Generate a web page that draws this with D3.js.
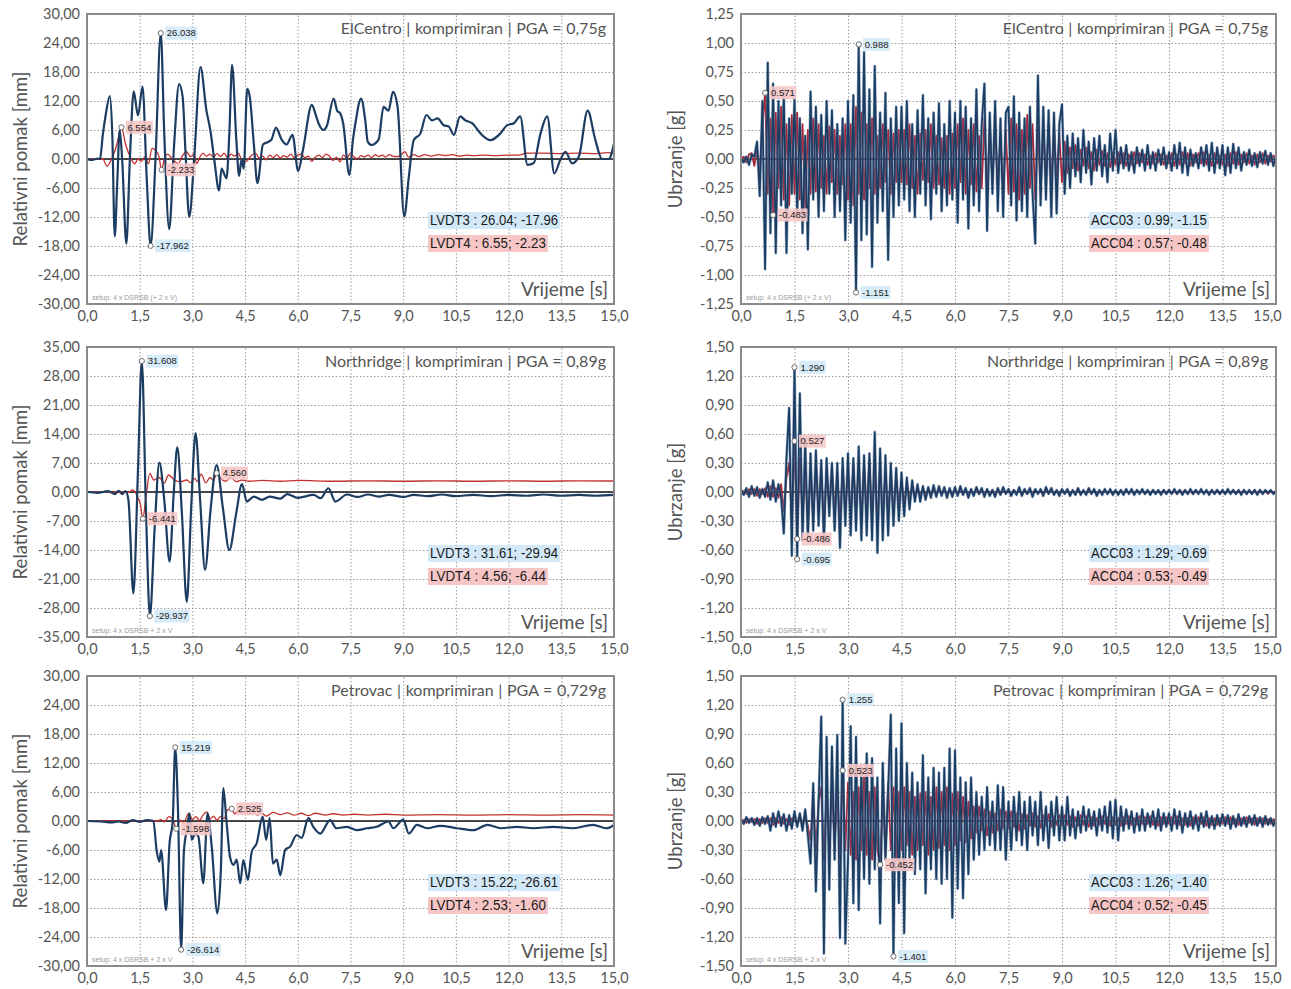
<!DOCTYPE html>
<html>
<head>
<meta charset="utf-8">
<script src="https://cdn.jsdelivr.net/npm/d3@7"></script>
<style>
  body { margin: 0; background: #fff; }
  svg { display: block; }
  .tick text { font-family: Lato, "Noto Sans", sans-serif; font-size: 14.5px; fill: #555; }
</style>
</head>
<body>
<svg id="chart" width="1291" height="989"></svg>
<script>
// ---------- axis ticks ----------
const timeTicks = [0, 1.5, 3, 4.5, 6, 7.5, 9, 10.5, 12, 13.5, 15];
const dispTicks30 = [-30, -24, -18, -12, -6, 0, 6, 12, 18, 24, 30];
const dispTicks35 = [-35, -28, -21, -14, -7, 0, 7, 14, 21, 28, 35];
const accTicks125 = [-1.25, -1, -0.75, -0.5, -0.25, 0, 0.25, 0.5, 0.75, 1, 1.25];
const accTicks150 = [-1.5, -1.2, -0.9, -0.6, -0.3, 0, 0.3, 0.6, 0.9, 1.2, 1.5];

// ---------- texts ----------
const titles = [
  "ElCentro | komprimiran | PGA = 0,75g",
  "Northridge | komprimiran | PGA = 0,89g",
  "Petrovac | komprimiran | PGA = 0,729g"
];
const setupTexts = ["setup: 4 x DSRSB (+ 2 x V)", "setup: 4 x DSRSB + 2 x V", "setup: 4 x DSRSB + 2 x V"];
const dispLegend = [
  ["LVDT3 : 26.04; -17.96", "LVDT4 : 6.55; -2.23"],
  ["LVDT3 : 31.61; -29.94", "LVDT4 : 4.56; -6.44"],
  ["LVDT3 : 15.22; -26.61", "LVDT4 : 2.53; -1.60"]
];
const accLegend = [
  ["ACC03 : 0.99; -1.15", "ACC04 : 0.57; -0.48"],
  ["ACC03 : 1.29; -0.69", "ACC04 : 0.53; -0.49"],
  ["ACC03 : 1.26; -1.40", "ACC04 : 0.52; -0.45"]
];

// ---------- displacement [t (s), mm] ----------
const ecLvdt3 = [[0,0],[0.15,-0.2],[0.3,0.1],[0.37,0],[0.45,5],[0.53,9],[0.65,13],[0.72,5],[0.79,-16],[0.86,-5],[0.93,6],[1.0,0],[1.12,-17.5],[1.22,0],[1.33,14],[1.45,9],[1.58,15],[1.7,-4],[1.81,-17.962],[1.95,0],[2.10,26.038],[2.2,5],[2.34,-14.5],[2.48,3],[2.62,15.5],[2.72,13],[2.8,2],[2.91,-12],[3.05,0],[3.23,19],[3.40,10],[3.51,6],[3.62,0],[3.76,-6.5],[3.83,-2],[3.97,-4],[4.05,5],[4.13,19.5],[4.25,4],[4.33,-3.5],[4.40,0],[4.46,-2],[4.56,14.5],[4.63,13],[4.75,3],[4.85,-5],[5.01,3],[5.15,3.5],[5.25,4],[5.38,6.5],[5.54,4],[5.68,3],[5.85,5],[6.01,-2.5],[6.15,2],[6.40,11.2],[6.50,9.4],[6.59,7.4],[6.73,6],[6.82,6.7],[7.02,12.5],[7.12,10],[7.21,9.4],[7.29,7.4],[7.47,-3.3],[7.57,4],[7.64,7.4],[7.80,12.5],[7.92,8],[7.99,3.6],[8.1,2.9],[8.30,4],[8.44,10.8],[8.58,10],[8.71,13.9],[8.84,10.8],[9.03,-11.9],[9.16,-3.7],[9.30,3.9],[9.49,5.3],[9.66,9.1],[9.82,8],[9.98,8.4],[10.15,7],[10.3,6.7],[10.44,5],[10.62,8.8],[10.77,8],[10.96,7.4],[11.2,5.3],[11.48,3.9],[11.77,5.3],[11.96,7],[12.15,7.4],[12.33,8.8],[12.54,-1.2],[12.71,-0.9],[12.91,5.3],[13.10,8.8],[13.30,-3],[13.47,-0.2],[13.62,1.5],[13.81,-0.9],[14.0,0.5],[14.25,10],[14.47,3.9],[14.66,0],[14.85,0],[15.0,3.2]];
const ecLvdt4 = [[0,0],[0.45,0],[0.57,-1.5],[0.7,0],[0.85,3],[0.98,6.554],[1.1,3],[1.26,0],[1.36,-1],[1.45,0],[1.55,-0.5],[1.65,0.5],[1.75,-1],[1.85,2.2],[1.95,1.8],[2.05,0.5],[2.12,-2.233],[2.2,0],[2.3,1],[2.4,0.2],[2.5,-0.5],[2.6,-1],[2.7,0.5],[2.83,1.5],[2.95,0.5],[3.05,1],[3.12,-1],[3.22,0.5],[3.3,1.2],[3.4,0.6],[3.5,1],[3.6,0.4],[3.7,1.1],[3.8,0.5],[3.9,1.2],[4.0,0.3],[4.1,1],[4.2,0.6],[4.3,1.2],[4.4,0],[4.54,-0.5],[4.65,0.5],[4.8,1.2],[4.9,0.2],[5.0,0.6],[5.1,-0.2],[5.2,0.8],[5.3,0.3],[5.4,0.9],[5.5,0.2],[5.6,0.7],[5.7,0.4],[5.8,1],[5.9,0.3],[6.0,0.8],[6.1,1],[6.2,0.3],[6.3,0.6],[6.39,-0.5],[6.5,0.4],[6.6,0.8],[6.7,0.3],[6.8,1],[6.9,0.6],[7.0,-0.3],[7.1,0.4],[7.2,-0.6],[7.3,0.8],[7.4,0.2],[7.5,1.2],[7.6,0.4],[7.7,0.1],[7.8,0.7],[7.9,0.4],[8.0,0.8],[8.1,0.3],[8.2,0.9],[8.3,0.5],[8.4,0.8],[8.5,0.4],[8.6,0.9],[8.7,0.6],[8.8,0.5],[8.9,0.6],[9.05,1.5],[9.15,0.4],[9.3,0.9],[9.45,0.5],[9.6,0.9],[9.8,0.6],[10,0.9],[10.2,0.7],[10.4,0.9],[10.6,0.6],[10.8,0.8],[11,0.7],[11.3,0.8],[11.6,0.7],[12.0,0.8],[12.3,0.8],[12.5,1.2],[13,1.2],[13.5,1.1],[14,1.2],[14.5,1.1],[14.8,1.3],[15,1.2]];

const nrLvdt3 = [[0,0],[0.3,-0.2],[0.6,0.2],[0.8,-0.5],[0.9,0.3],[1.0,-0.5],[1.1,0.2],[1.18,-2],[1.32,-24.5],[1.45,5],[1.56,31.608],[1.68,-5],[1.79,-29.937],[1.93,-8],[2.06,7.1],[2.2,-2],[2.35,-16.8],[2.47,0],[2.57,10.8],[2.7,-5],[2.84,-26.5],[2.97,-3],[3.09,14.2],[3.22,-2],[3.36,-18.8],[3.52,-4],[3.69,6.5],[3.87,-4],[4.05,-14],[4.25,-5],[4.41,1.9],[4.55,-2.3],[4.75,-1.1],[4.98,-1.9],[5.2,-1.1],[5.5,-1.6],[5.7,-0.5],[6.0,-1.4],[6.45,-0.7],[6.65,-1.5],[6.87,0.9],[7.07,-2.3],[7.4,-0.6],[7.7,-1.2],[8.0,-0.6],[8.3,-1.1],[8.6,-0.7],[9.0,-1.2],[9.3,-0.7],[9.7,-1.0],[10.1,-0.6],[10.5,-1.0],[11,-0.7],[11.5,-1.0],[12,-0.7],[12.5,-0.9],[13,-0.6],[13.5,-0.9],[14,-0.7],[14.5,-0.9],[15,-0.7]];
const nrLvdt4 = [[0,0],[1.2,0],[1.3,0.5],[1.42,-0.8],[1.52,-3],[1.59,-6.441],[1.68,-1],[1.79,4.5],[1.9,2.9],[2.06,3.5],[2.2,2.1],[2.32,4.1],[2.5,2.8],[2.66,2.5],[2.84,2.9],[2.95,2.2],[3.05,3.3],[3.15,2.5],[3.25,4.3],[3.38,2.2],[3.5,3.5],[3.6,2.8],[3.69,4.56],[3.8,3.3],[3.95,2.6],[4.1,3.5],[4.25,2.5],[4.41,2.9],[4.6,2.6],[5,2.8],[5.5,2.6],[6,2.8],[7,2.6],[8,2.7],[9,2.6],[10,2.7],[11,2.6],[12,2.7],[13,2.6],[14,2.7],[15,2.65]];

const ptLvdt3 = [[0,0],[0.4,-0.1],[0.7,-0.3],[0.9,-0.1],[1.1,-0.4],[1.3,0.2],[1.5,-0.2],[1.7,0.2],[1.89,0],[1.98,-6],[2.06,-8.4],[2.11,-6],[2.25,-18.4],[2.35,-4.6],[2.44,0],[2.51,15.219],[2.59,2.3],[2.68,-26.614],[2.76,-6],[2.84,-1.9],[2.92,1.6],[2.98,-3.9],[3.08,-2.6],[3.17,-3.2],[3.31,-12.9],[3.43,1.6],[3.55,-5.3],[3.71,-19.1],[3.81,-10.1],[3.88,6.8],[3.97,0],[4.07,-7.4],[4.17,-9.1],[4.26,-8],[4.36,-12.9],[4.45,-8.1],[4.58,-12.2],[4.69,-6.3],[4.83,-4.6],[5.0,0.9],[5.1,-3.9],[5.2,0.6],[5.29,-8.8],[5.4,-8],[5.50,-11.2],[5.64,-6],[5.78,-5.3],[5.97,-2.9],[6.11,-3.5],[6.30,0.6],[6.44,-1.2],[6.64,-2.6],[6.92,0.2],[7.1,-1.5],[7.40,-1.2],[7.68,-1.9],[7.97,-1.5],[8.25,-1.2],[8.58,-0.1],[8.72,-1.5],[9.0,0.3],[9.16,-2.6],[9.39,-0.8],[9.68,-1.5],[10.06,-1.0],[10.53,-1.5],[11.0,-1.9],[11.4,-0.8],[11.78,-1.5],[12.24,-1.2],[12.7,-1.5],[13.27,-1.2],[13.84,-1.5],[14.4,-0.8],[14.78,-1.5],[15,-0.8]];
const ptLvdt4 = [[0,0],[2.0,0],[2.1,0.3],[2.2,-0.2],[2.33,0.9],[2.45,0.2],[2.54,-1.598],[2.65,0.2],[2.75,-0.3],[2.9,1.6],[3.0,0.3],[3.1,0.9],[3.2,0.1],[3.3,1.2],[3.41,1.9],[3.5,0.4],[3.6,1.0],[3.7,0.2],[3.8,0.9],[3.9,0.5],[4.0,2.3],[4.12,2.525],[4.2,1.5],[4.3,2.2],[4.4,1.6],[4.5,2.0],[4.6,1.4],[4.72,2.1],[4.85,1.2],[4.95,1.8],[5.1,1.0],[5.3,1.8],[5.5,1.3],[5.7,1.7],[5.9,1.2],[6.1,1.6],[6.3,1.1],[6.5,1.6],[6.8,1.2],[7.0,1.5],[7.3,1.2],[7.6,1.4],[8,1.2],[8.5,1.4],[9,1.2],[10,1.3],[11,1.2],[12,1.3],[13,1.2],[14,1.3],[15,1.2]];

// ---------- acceleration [g], one value every accStep seconds (20 values per 1.5 s) ----------
const accStep = 0.075;
const ecAcc03 = [
  0.01,-0.03,0.02,-0.05,0.04,0.02,0.15,-0.32,0.50,-0.95,0.83,-0.64,0.65,-0.81,0.50,-0.40,0.60,-0.81,0.35,-0.30,
  0.52,-0.47,0.35,-0.64,0.2,-0.78,0.58,-0.35,0.45,-0.5,0.38,-0.45,0.5,-0.3,0.42,-0.5,0.3,-0.45,0.35,-0.7,
  0.5,-0.55,0.55,-1.151,0.988,-0.7,0.92,-0.65,0.6,-0.93,0.8,-0.55,0.4,-0.45,0.57,-0.87,0.35,-0.5,0.45,-0.4,
  0.45,-0.35,0.5,-0.45,0.3,-0.5,0.42,-0.3,0.55,-0.4,0.35,-0.52,0.4,-0.3,0.48,-0.45,0.3,-0.4,0.5,-0.35,
  0.4,-0.55,0.5,-0.35,0.45,-0.6,0.35,-0.4,0.6,-0.45,0.3,0.65,-0.62,0.4,-0.3,0.5,-0.45,0.35,-0.5,0.4,
  0.45,-0.4,0.54,-0.53,0.4,-0.45,0.35,-0.5,0.45,-0.3,-0.73,0.72,-0.4,0.45,-0.35,0.42,-0.5,0.4,-0.47,0.3,
  0.47,-0.3,0.2,-0.25,0.22,-0.15,0.18,-0.2,0.25,-0.12,0.15,-0.22,0.18,-0.1,0.2,-0.15,0.12,-0.2,0.22,-0.1,
  0.25,-0.12,0.1,-0.08,0.12,-0.1,0.06,-0.12,0.1,-0.06,0.08,-0.1,0.12,-0.08,0.06,-0.1,0.08,-0.05,0.1,-0.08,
  0.06,-0.1,0.12,-0.08,0.14,-0.12,0.1,-0.14,0.08,-0.06,0.05,-0.08,0.1,-0.06,0.12,-0.1,0.14,-0.12,0.1,-0.08,
  0.12,-0.14,0.1,-0.12,0.13,-0.08,0.1,-0.1,0.06,-0.05,0.08,-0.06,0.05,-0.07,0.06,-0.04,0.07,-0.05,0.05,-0.06,
  0.03];
const ecAcc04 = [
  0,0.02,-0.03,0.04,0.05,-0.06,0.08,-0.12,0.3,0.571,-0.3,0.35,-0.483,0.4,-0.25,0.45,-0.35,0.3,-0.4,0.38,
  -0.3,0.4,-0.35,0.3,-0.42,0.25,-0.3,0.35,-0.28,0.3,-0.25,0.2,-0.3,0.28,-0.2,0.25,-0.3,0.2,-0.22,0.3,
  -0.35,0.3,-0.4,0.45,-0.3,0.4,-0.35,0.3,-0.25,0.35,-0.3,0.2,-0.25,0.3,-0.2,0.25,-0.3,0.22,-0.2,0.25,
  -0.2,0.25,-0.22,0.3,-0.25,0.2,-0.3,0.22,-0.18,0.25,-0.2,0.3,-0.25,0.2,-0.22,0.18,-0.25,0.2,-0.3,0.22,
  -0.25,0.3,-0.2,0.35,-0.3,0.25,-0.22,0.3,-0.28,0.2,-0.25,0.35,-0.3,0.28,-0.22,0.3,-0.25,0.2,-0.3,0.25,
  -0.3,0.35,-0.28,0.3,-0.35,0.25,-0.3,0.38,-0.25,0.3,-0.35,0.28,-0.3,0.25,-0.2,0.3,-0.25,0.28,-0.2,0.22,
  -0.2,0.15,-0.12,0.1,-0.08,0.12,-0.1,0.08,-0.06,0.1,-0.08,0.06,-0.1,0.08,-0.05,0.07,-0.06,0.05,-0.07,0.06,
  -0.05,0.06,-0.04,0.05,-0.06,0.04,-0.05,0.06,-0.04,0.05,-0.03,0.04,-0.05,0.03,-0.04,0.05,-0.03,0.04,-0.05,0.03,
  -0.04,0.05,-0.06,0.04,-0.05,0.06,-0.04,0.05,-0.06,0.04,-0.03,0.05,-0.04,0.06,-0.05,0.04,-0.06,0.05,-0.04,0.03,
  -0.05,0.04,-0.06,0.05,-0.04,0.06,-0.05,0.04,-0.03,0.05,-0.04,0.03,-0.05,0.04,-0.03,0.05,-0.04,0.03,-0.02,0.03,
  0.01];

const nrAcc03 = [
  0.02,-0.03,0.04,-0.05,0.06,-0.04,0.05,-0.06,0.03,-0.05,0.1,-0.08,0.12,-0.1,0.08,-0.06,-0.43,0.35,0.87,-0.66,
  1.29,-0.695,1.02,-0.5,0.54,-0.5,0.4,-0.4,0.43,-0.35,0.33,-0.53,0.35,-0.25,0.3,-0.4,0.3,-0.58,0.35,-0.35,
  0.4,-0.45,0.35,-0.4,0.47,-0.5,0.38,-0.45,0.4,-0.5,0.62,-0.63,0.45,-0.5,0.38,-0.45,0.3,-0.35,0.25,-0.3,
  0.2,-0.25,0.15,-0.18,0.12,-0.1,0.08,-0.1,0.06,-0.08,0.05,-0.06,0.07,-0.05,0.06,-0.04,0.05,-0.06,0.04,-0.05,
  0.05,-0.04,0.06,-0.03,0.04,-0.06,0.03,-0.04,0.05,-0.02,0.04,-0.05,0.03,-0.04,0.02,-0.05,0.04,-0.03,0.05,-0.02,
  0.03,-0.04,0.02,-0.03,0.05,-0.04,0.03,-0.02,0.04,-0.05,0.03,-0.02,0.03,-0.04,0.05,-0.02,0.04,-0.03,0.02,-0.04,
  0.03,-0.02,0.03,-0.04,0.02,-0.03,0.04,-0.03,0.02,-0.03,0.04,-0.02,0.03,-0.04,0.02,-0.03,0.03,-0.02,0.03,-0.03,
  0.02,-0.03,0.02,-0.03,0.03,-0.02,0.03,-0.03,0.02,-0.02,0.03,-0.02,0.02,-0.03,0.02,-0.02,0.02,-0.03,0.02,-0.02,
  0.02,-0.02,0.03,-0.02,0.02,-0.03,0.02,-0.02,0.03,-0.02,0.02,-0.02,0.03,-0.02,0.02,-0.03,0.02,-0.02,0.02,-0.02,
  0.02,-0.02,0.03,-0.02,0.02,-0.02,0.02,-0.03,0.02,-0.02,0.02,-0.02,0.02,-0.03,0.02,-0.02,0.02,-0.01,0.02,-0.02,
  0.01];
const nrAcc04 = [
  0,0.01,-0.02,0.03,-0.02,0.03,-0.04,0.03,-0.02,0.04,-0.05,0.06,-0.05,0.04,-0.06,0.08,-0.2,0.15,0.3,-0.3,
  0.527,-0.486,0.35,-0.3,0.25,-0.35,0.2,-0.3,0.28,-0.2,0.25,-0.3,0.22,-0.18,0.25,-0.22,0.2,-0.3,0.25,-0.2,
  0.22,-0.25,0.3,-0.2,0.25,-0.28,0.3,-0.22,0.35,-0.3,0.25,-0.35,0.3,-0.25,0.2,-0.22,0.18,-0.2,0.15,-0.12,
  0.1,-0.12,0.08,-0.06,0.05,-0.04,0.03,-0.04,0.03,-0.02,0.03,-0.02,0.02,-0.03,0.02,-0.02,0.03,-0.02,0.02,-0.03,
  0.02,-0.01,0.02,-0.02,0.01,-0.02,0.02,-0.01,0.02,-0.02,0.01,-0.02,0.02,-0.01,0.02,-0.02,0.01,-0.02,0.02,-0.01,
  0.01,-0.02,0.02,-0.01,0.02,-0.02,0.01,-0.02,0.02,-0.01,0.02,-0.01,0.01,-0.02,0.02,-0.01,0.02,-0.02,0.01,-0.02,
  0.02,-0.01,0.02,-0.02,0.01,-0.02,0.02,-0.01,0.01,-0.02,0.02,-0.01,0.02,-0.02,0.01,-0.01,0.02,-0.02,0.01,-0.02,
  0.01,-0.02,0.02,-0.01,0.02,-0.01,0.01,-0.02,0.02,-0.01,0.02,-0.02,0.01,-0.02,0.02,-0.01,0.01,-0.02,0.02,-0.01,
  0.02,-0.01,0.01,-0.02,0.02,-0.01,0.02,-0.02,0.01,-0.02,0.02,-0.01,0.02,-0.01,0.01,-0.02,0.02,-0.01,0.02,-0.02,
  0.01,-0.02,0.02,-0.01,0.02,-0.02,0.01,-0.01,0.02,-0.02,0.01,-0.02,0.02,-0.01,0.02,-0.01,0.01,-0.02,0.01,-0.01,
  0];

const ptAcc03 = [
  0.02,-0.03,0.04,-0.02,0.03,-0.04,0.03,-0.05,0.04,-0.03,0.05,-0.1,0.08,-0.06,0.1,-0.05,0.07,-0.1,0.06,-0.08,
  0.1,-0.06,0.08,-0.1,0.12,-0.15,-0.44,0.39,-0.73,0.2,1.08,-1.37,0.87,-0.71,0.77,-0.4,0.89,-1.21,1.255,-1.27,
  -0.4,0.98,-0.85,0.87,-0.92,0.55,-0.6,0.7,-0.65,0.65,-0.5,0.45,-1.06,0.6,-0.4,0.3,1.1,-1.401,0.75,-0.85,
  1.01,-1.16,0.6,-0.4,0.5,-0.55,0.4,-0.5,0.68,-0.75,0.45,-0.5,0.55,-0.6,0.5,-0.65,0.55,-0.6,0.75,-1.0,
  0.73,-0.7,0.45,-0.8,0.4,-0.55,0.45,-0.4,0.3,-0.35,0.25,-0.3,0.35,-0.25,0.2,-0.3,0.37,-0.3,0.35,-0.4,
  0.2,-0.3,0.25,-0.2,0.3,-0.25,0.2,-0.3,0.25,-0.15,0.2,-0.25,0.3,-0.2,0.15,-0.28,0.2,-0.15,0.25,-0.2,
  0.15,-0.2,0.25,-0.15,0.12,-0.18,0.1,-0.12,0.15,-0.1,0.12,-0.08,0.1,-0.15,0.12,-0.1,0.15,-0.12,0.2,-0.18,
  0.22,-0.2,0.15,-0.1,0.12,-0.08,0.1,-0.12,0.08,-0.1,0.12,-0.1,0.08,-0.06,0.1,-0.08,0.12,-0.1,0.08,-0.06,
  0.08,-0.1,0.12,-0.08,0.1,-0.12,0.08,-0.06,0.1,-0.08,0.06,-0.1,0.08,-0.06,0.1,-0.07,0.05,-0.08,0.06,-0.05,
  0.07,-0.05,0.06,-0.08,0.05,-0.06,0.07,-0.05,0.04,-0.06,0.05,-0.04,0.06,-0.05,0.04,-0.06,0.05,-0.04,0.03,-0.05,
  0.02];
const ptAcc04 = [
  0,0.01,-0.02,0.02,-0.01,0.02,-0.03,0.02,-0.02,0.03,-0.02,0.03,-0.04,0.03,-0.02,0.04,-0.03,0.02,-0.04,0.03,
  0.03,-0.04,0.05,-0.04,0.06,-0.05,-0.2,0.25,-0.3,0.2,0.35,-0.4,0.3,-0.35,0.4,-0.3,0.35,-0.38,0.523,-0.3,
  0.4,-0.35,0.3,-0.4,0.35,-0.3,0.45,-0.35,0.3,-0.4,0.35,-0.3,-0.452,0.3,-0.35,0.4,-0.3,0.35,-0.4,0.3,
  -0.3,0.35,-0.25,0.3,-0.35,0.25,-0.3,0.28,-0.25,0.3,-0.35,0.25,-0.3,0.35,-0.28,0.3,-0.25,0.35,-0.3,0.28,
  -0.25,0.3,-0.2,0.25,-0.22,0.2,-0.18,0.15,-0.12,0.15,-0.1,0.12,-0.15,0.1,-0.12,0.08,-0.1,0.12,-0.08,0.1,
  -0.08,0.1,-0.06,0.08,-0.1,0.07,-0.08,0.06,-0.05,0.08,-0.06,0.05,-0.07,0.06,-0.05,0.07,-0.06,0.05,-0.04,0.06,
  -0.05,0.06,-0.04,0.05,-0.06,0.04,-0.05,0.06,-0.04,0.05,-0.06,0.04,-0.05,0.03,-0.04,0.05,-0.03,0.04,-0.05,0.04,
  -0.04,0.03,-0.05,0.04,-0.03,0.05,-0.04,0.03,-0.04,0.05,-0.03,0.04,-0.03,0.05,-0.04,0.03,-0.05,0.04,-0.03,0.04,
  -0.03,0.04,-0.03,0.05,-0.04,0.03,-0.04,0.03,-0.05,0.04,-0.03,0.04,-0.03,0.04,-0.05,0.03,-0.04,0.03,-0.04,0.03,
  -0.03,0.04,-0.03,0.04,-0.03,0.02,-0.04,0.03,-0.03,0.04,-0.02,0.03,-0.04,0.03,-0.02,0.03,-0.03,0.02,-0.03,0.02,
  0.01];

// ---------- layout ----------
const columns = [
  { x0: 87, x1: 614, yTitle: "Relativni pomak [mm]", yTitleX: 27, lastTickShift: 0 },
  { x0: 741, x1: 1276, yTitle: "Ubrzanje [g]", yTitleX: 682, lastTickShift: -9 }
];
const rowBands = [[14, 304], [347, 637], [676, 966]];
const blue = "#1c3c62", red = "#c4302f";

const asPairs = vals => vals.map((v, i) => [i * accStep, v]);

const panels = [
  { col: 0, row: 0, yTicks: dispTicks30, legend: dispLegend[0], series: [ecLvdt4, ecLvdt3], smooth: true },
  { col: 1, row: 0, yTicks: accTicks125, legend: accLegend[0], series: [asPairs(ecAcc04), asPairs(ecAcc03)], smooth: false },
  { col: 0, row: 1, yTicks: dispTicks35, legend: dispLegend[1], series: [nrLvdt4, nrLvdt3], smooth: true },
  { col: 1, row: 1, yTicks: accTicks150, legend: accLegend[1], series: [asPairs(nrAcc04), asPairs(nrAcc03)], smooth: false },
  { col: 0, row: 2, yTicks: dispTicks30, legend: dispLegend[2], series: [ptLvdt4, ptLvdt3], smooth: true },
  { col: 1, row: 2, yTicks: accTicks150, legend: accLegend[2], series: [asPairs(ptAcc04), asPairs(ptAcc03)], smooth: false }
];

const comma = d3.formatLocale({ decimal: ",", thousands: ".", grouping: [3], currency: ["", ""], minus: "-" });
const fmtY = comma.format(".2f"), fmtX = comma.format(".1f");
const fmtPeak = d3.formatLocale({ decimal: ".", thousands: ",", grouping: [3], currency: ["", ""], minus: "-" }).format(".3f");

const svg = d3.select("#chart");

panels.forEach((p, pi) => {
  const c = columns[p.col];
  const [top, bottom] = rowBands[p.row];
  const x = d3.scaleLinear().domain([0, 15]).range([c.x0, c.x1]);
  const y = d3.scaleLinear().domain(d3.extent(p.yTicks)).range([bottom, top]);
  const g = svg.append("g");

  // dotted grid
  g.append("g").attr("transform", `translate(0,${bottom})`)
    .call(d3.axisBottom(x).tickValues(timeTicks.slice(1, -1)).tickSize(-(bottom - top)).tickFormat(""))
    .call(s => { s.select(".domain").remove(); s.selectAll("line").attr("stroke", "#8f8f8f").attr("stroke-width", 0.9).attr("stroke-dasharray", "1.5,2"); });
  g.append("g").attr("transform", `translate(${c.x0},0)`)
    .call(d3.axisLeft(y).tickValues(p.yTicks.slice(1, -1)).tickSize(-(c.x1 - c.x0)).tickFormat(""))
    .call(s => { s.select(".domain").remove(); s.selectAll("line").attr("stroke", "#8f8f8f").attr("stroke-width", 0.9).attr("stroke-dasharray", "1.5,2"); });

  // tick labels
  g.append("g").attr("transform", `translate(${c.x0},0)`)
    .call(d3.axisLeft(y).tickValues(p.yTicks).tickSize(0).tickPadding(7).tickFormat(fmtY))
    .call(s => s.select(".domain").remove());
  g.append("g").attr("transform", `translate(0,${bottom})`)
    .call(d3.axisBottom(x).tickValues(timeTicks).tickSize(0).tickPadding(7).tickFormat(fmtX))
    .call(s => {
      s.select(".domain").remove();
      s.selectAll(".tick").filter(d => d === 15).select("text").attr("dx", c.lastTickShift);
    });

  // clip
  const clipId = "clip" + pi;
  svg.append("clipPath").attr("id", clipId).append("rect")
    .attr("x", c.x0).attr("y", top).attr("width", c.x1 - c.x0).attr("height", bottom - top);

  // zero line
  g.append("line").attr("x1", c.x0).attr("x2", c.x1).attr("y1", y(0)).attr("y2", y(0))
    .attr("stroke", "#111").attr("stroke-width", 1.6);

  const line = d3.line().x(d => x(d[0])).y(d => y(d[1]))
    .curve(p.smooth ? d3.curveMonotoneX : d3.curveLinear);
  const styles = [
    { color: red, width: p.smooth ? 1.3 : 1.8, bg: "#f6c6c6" },
    { color: blue, width: p.smooth ? 2.2 : 1.7, bg: "#d3e9f7" }
  ];
  const lines = g.append("g").attr("clip-path", `url(#${clipId})`);
  p.series.forEach((s, si) => {
    if (!p.smooth && si === 1) {
      // soft lighter edge around the dense acceleration trace
      lines.append("path").datum(s).attr("d", line).attr("fill", "none")
        .attr("stroke", "#4a78a6").attr("stroke-width", 2.9).attr("stroke-opacity", 0.55)
        .attr("stroke-linejoin", "round");
    }
    lines.append("path").datum(s).attr("d", line).attr("fill", "none")
      .attr("stroke", si === 0 && !p.smooth ? "#a8283a" : styles[si].color)
      .attr("stroke-width", styles[si].width)
      .attr("stroke-linejoin", "round");
  });

  // plot border
  g.append("rect").attr("x", c.x0).attr("y", top).attr("width", c.x1 - c.x0).attr("height", bottom - top)
    .attr("fill", "none").attr("stroke", "#8a8a8a").attr("stroke-width", 2);

  // peak markers
  p.series.forEach((s, si) => {
    [d3.maxIndex(s, d => d[1]), d3.minIndex(s, d => d[1])].forEach(idx => {
      const d = s[idx];
      const px = x(d[0]), py = y(d[1]);
      const lab = g.append("g");
      const t = lab.append("text").attr("x", px + 6).attr("y", py).attr("dy", "0.35em")
        .style("font-family", "'Liberation Sans', Arial, sans-serif").style("font-size", "9.5px")
        .attr("fill", "#222").text(fmtPeak(d[1]));
      const bb = t.node().getBBox();
      lab.insert("rect", "text").attr("x", bb.x - 1.5).attr("y", py - 6.5).attr("width", bb.width + 3).attr("height", 13)
        .attr("fill", styles[si].bg).attr("opacity", 0.9);
      lab.append("circle").attr("cx", px).attr("cy", py).attr("r", 2.6)
        .attr("fill", "#fff").attr("stroke", "#6a6a6a").attr("stroke-width", 1);
    });
  });

  // legend
  const legX = p.col === 0 ? 430 : 1091;
  [1, 0].forEach((si, k) => {
    const txt = p.legend[k];
    const w = txt.length * 6.1;
    const base = top + 211 + k * 23;
    g.append("rect").attr("x", legX - 2).attr("y", base - 13).attr("width", w + 4).attr("height", 17)
      .attr("fill", styles[si].bg);
    g.append("text").attr("x", legX).attr("y", base)
      .attr("textLength", w).attr("lengthAdjust", "spacingAndGlyphs")
      .style("font-family", "'Liberation Sans Narrow', 'Liberation Sans', Arial, sans-serif").style("font-size", "15px")
      .attr("fill", "#1a1a1a").text(txt);
  });

  // titles and labels
  g.append("text").attr("x", c.x1 - 8).attr("y", top + 20).attr("text-anchor", "end")
    .style("font-family", "Lato, 'Noto Sans', sans-serif").style("font-size", "16px").attr("fill", "#555")
    .style("word-spacing", "0.5px")
    .text(titles[p.row]);
  g.append("text").attr("x", c.x1 - 6).attr("y", bottom - 8).attr("text-anchor", "end")
    .style("font-family", "Lato, 'Noto Sans', sans-serif").style("font-size", "19px").attr("fill", "#555")
    .text("Vrijeme [s]");
  g.append("text").attr("x", c.x0 + 5).attr("y", bottom - 4)
    .style("font-family", "'Liberation Sans', Arial, sans-serif").style("font-size", "7px").attr("fill", "#9a9a9a")
    .text(setupTexts[p.row]);
  g.append("text").attr("transform", `translate(${c.yTitleX},${(top + bottom) / 2}) rotate(-90)`)
    .attr("text-anchor", "middle")
    .style("font-family", "Lato, 'Noto Sans', sans-serif").style("font-size", "18.5px").attr("fill", "#555")
    .text(c.yTitle);
});
</script>
</body>
</html>
